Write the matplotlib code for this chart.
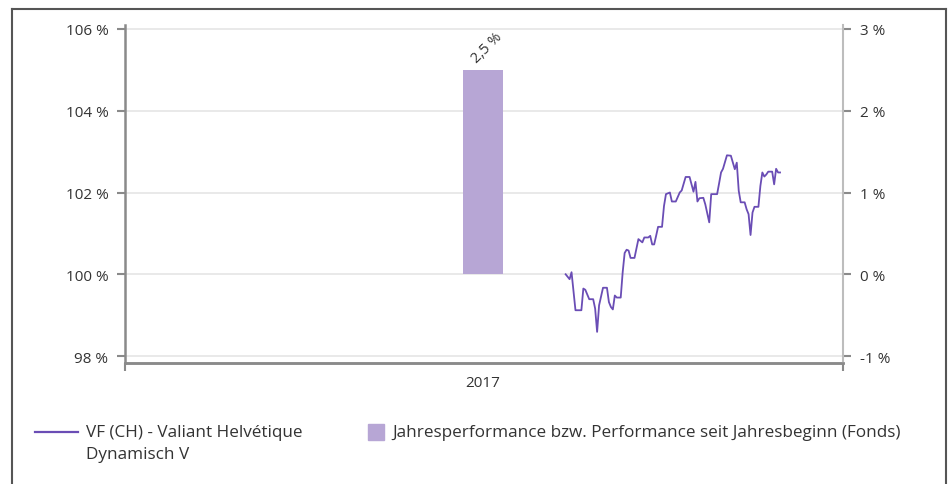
import numpy as np
import matplotlib
matplotlib.use("Agg")
from matplotlib import pyplot as plt
from matplotlib.lines import Line2D
from matplotlib.patches import Rectangle

plt.rcParams['font.family'] = ['Open Sans', 'DejaVu Sans']

# -- fund price series (indexed, %)
dates = ['2017-08-13', '2017-08-15', '2017-08-16', '2017-08-18', '2017-08-21', '2017-08-22',
         '2017-08-23', '2017-08-25', '2017-08-27', '2017-08-28', '2017-08-29', '2017-08-30',
         '2017-09-01', '2017-09-03', '2017-09-04', '2017-09-05', '2017-09-06', '2017-09-07',
         '2017-09-08', '2017-09-10', '2017-09-11', '2017-09-12', '2017-09-13', '2017-09-14',
         '2017-09-15', '2017-09-17', '2017-09-19', '2017-09-21', '2017-09-22', '2017-09-24',
         '2017-09-25', '2017-09-26', '2017-09-27', '2017-09-28', '2017-09-29', '2017-10-01',
         '2017-10-02', '2017-10-03', '2017-10-05', '2017-10-06', '2017-10-08', '2017-10-10',
         '2017-10-11', '2017-10-13', '2017-10-15', '2017-10-17', '2017-10-18', '2017-10-19',
         '2017-10-20', '2017-10-22', '2017-10-23', '2017-10-25', '2017-10-26', '2017-10-29',
         '2017-10-30', '2017-10-31', '2017-11-01', '2017-11-03', '2017-11-05', '2017-11-07',
         '2017-11-08', '2017-11-09', '2017-11-10', '2017-11-12', '2017-11-13', '2017-11-14',
         '2017-11-15', '2017-11-16', '2017-11-17', '2017-11-19', '2017-11-20', '2017-11-21',
         '2017-11-22', '2017-11-23', '2017-11-24', '2017-11-26', '2017-11-27', '2017-11-28',
         '2017-11-29', '2017-11-30']
values = [100.00, 99.88, 100.05, 99.12, 99.12, 99.65,
          99.62, 99.39, 99.39, 99.16, 98.59, 99.24,
          99.67, 99.67, 99.32, 99.20, 99.14, 99.48,
          99.43, 99.43, 100.05, 100.52, 100.60, 100.58,
          100.40, 100.40, 100.86, 100.78, 100.90, 100.90,
          100.94, 100.73, 100.73, 100.94, 101.16, 101.16,
          101.67, 101.96, 102.00, 101.78, 101.78, 102.00,
          102.05, 102.38, 102.38, 102.02, 102.26, 101.78,
          101.86, 101.87, 101.71, 101.27, 101.96, 101.96,
          102.22, 102.49, 102.58, 102.91, 102.90, 102.57,
          102.73, 102.04, 101.76, 101.76, 101.59, 101.47,
          100.96, 101.51, 101.65, 101.65, 102.16, 102.49,
          102.39, 102.44, 102.51, 102.51, 102.20, 102.58,
          102.49, 102.49]

# -- yearly performance bar
bar_years = ['2017']
bar_perf = [2.5]

line_label = 'VF (CH) - Valiant Helvétique\nDynamisch V'
bar_label = 'Jahresperformance bzw. Performance seit Jahresbeginn (Fonds)'

line_color = '#6a4db5'
bar_color = '#b7a6d5'
axis_grey = '#8a8a8a'
text_grey = '#333333'

fig = plt.figure(figsize=(9.5, 4.85), dpi=100)
W, H = 950, 485
ax = fig.add_axes([125 / W, 1 - 364 / H, (843 - 125) / W, (364 - 26) / H])
ax2 = ax.twinx()

x = np.array(dates, dtype='datetime64[D]')
ax.plot(x, values, color=line_color, lw=1.3, zorder=3)

y_lo, y_hi = 98 - 7 / 41, 106 + 4 / 41
ax.set_ylim(y_lo, y_hi)
ax2.set_ylim((y_lo - 100) / 2, (y_hi - 100) / 2)

bar_x = [np.datetime64(y + '-07-02') for y in bar_years]
bars = ax2.bar(bar_x, bar_perf, width=20, color=bar_color, zorder=2)
for b, v in zip(bars, bar_perf):
    ax2.annotate(f'{v:.1f} %'.replace('.', ','), (b.get_x() + b.get_width() / 2, v),
                 xytext=(3, 3), textcoords='offset points', rotation=45,
                 ha='center', va='bottom', fontsize=10.5, color=text_grey)

ax.set_xlim(np.datetime64('2017-01-01'), np.datetime64('2018-01-01'))
ax.set_xticks([np.datetime64('2017-01-01'), np.datetime64('2018-01-01')])
ax.set_xticklabels(['', ''])
ax.set_xticks([np.datetime64('2017-07-02')], minor=True)
ax.set_xticklabels(bar_years, minor=True)
ax.tick_params(axis='x', which='major', length=6, width=1.5, color=axis_grey)
ax.tick_params(axis='x', which='minor', length=0, pad=9, labelsize=11, labelcolor=text_grey)

ax.set_yticks([98, 100, 102, 104, 106])
ax.set_yticklabels([f'{t} %' for t in [98, 100, 102, 104, 106]])
ax2.set_yticks([-1, 0, 1, 2, 3])
ax2.set_yticklabels([f'{t} %' for t in [-1, 0, 1, 2, 3]])
ax.tick_params(axis='y', length=6, width=1.5, color=axis_grey, pad=6,
               labelsize=11, labelcolor=text_grey)
ax2.tick_params(axis='y', length=6, width=1.5, color=axis_grey, pad=6,
                labelsize=11, labelcolor=text_grey)
ax.grid(axis='y', color='#e3e3e3', lw=1.1)
ax.set_axisbelow(True)

for a in (ax, ax2):
    a.spines['top'].set_visible(False)
    a.spines['bottom'].set_color(axis_grey)
    a.spines['bottom'].set_linewidth(1.8)
ax.spines['left'].set_color(axis_grey)
ax.spines['left'].set_linewidth(1.8)
ax.spines['right'].set_visible(False)
ax2.spines['left'].set_visible(False)
ax2.spines['right'].set_color('#bdbdbd')
ax2.spines['right'].set_linewidth(1.5)

# legend, drawn by hand in pixel positions
fig.add_artist(Line2D([35 / W, 78 / W], [1 - 433 / H] * 2, color=line_color, lw=1.6))
for i, part in enumerate(line_label.split('\n')):
    fig.text(86 / W, 1 - (433 + 22 * i) / H, part, va='center', ha='left',
             fontsize=12.3, color=text_grey)
fig.add_artist(Rectangle((368 / W, 1 - 441 / H), 16 / W, 16 / H, color=bar_color))
fig.text(392 / W, 1 - 433 / H, bar_label, va='center', ha='left', fontsize=12.3,
         color=text_grey)

# outer frame
fig.add_artist(Line2D([11.5 / W, 11.5 / W], [0, 1 - 9.5 / H], color='#555555', lw=1.5))
fig.add_artist(Line2D([11.5 / W, 945.5 / W], [1 - 9.5 / H] * 2, color='#555555', lw=1.5))
fig.add_artist(Line2D([945.5 / W, 945.5 / W], [0, 1 - 9.5 / H], color='#555555', lw=1.5))

fig.savefig('out.png', dpi=100)
